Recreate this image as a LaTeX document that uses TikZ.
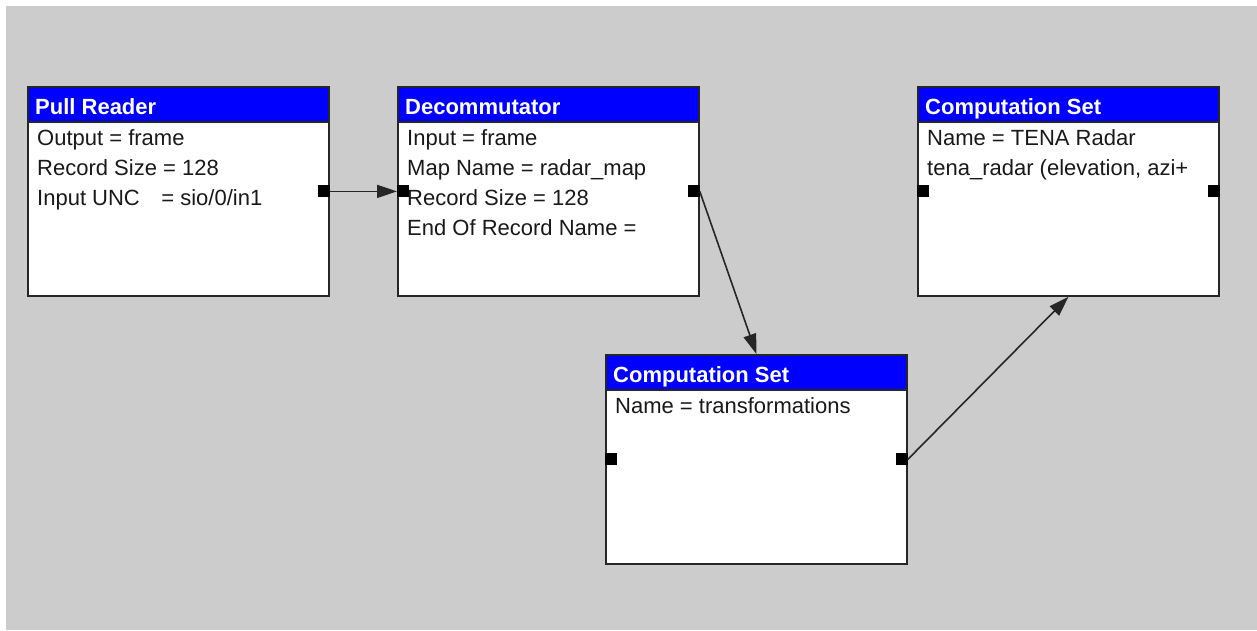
\documentclass[tikz,border=0pt]{standalone}
\usepackage{fontspec}
\setmainfont{Liberation Sans}
\usetikzlibrary{arrows.meta}

\definecolor{canvasgray}{RGB}{204,204,204}
\definecolor{headblue}{RGB}{0,0,255}

\tikzset{
    block/.style={draw=black!85, line width=1.8pt, fill=white, inner sep=0pt,
        minimum width=301pt, minimum height=209pt, anchor=north west},
    blockhead/.style={draw=black!85, line width=1.8pt, fill=headblue, inner sep=0pt,
        minimum width=301pt, minimum height=35pt, anchor=north west},
    headtext/.style={text=white, inner sep=0pt, anchor=base west,
        font=\bfseries\fontsize{22}{26}\selectfont},
    linetext/.style={text=black!90, inner sep=0pt, anchor=base west,
        font=\fontsize{22}{26}\selectfont},
    port/.style={fill=black, inner sep=0pt, minimum size=12pt},
    link/.style={draw=black!85, line width=1.6pt, -{Triangle[length=20pt,width=13pt]}},
}

% one filter block: name, x, y, title, lines
\newcommand{\streamblock}[5]{
    \node[block] (#1) at (#2,#3) {};
    \node[blockhead] (#1-head) at (#2,#3) {};
    \node[headtext] (#1-title) at (#2+8,#3+28) {#4};
    \foreach \t [count=\i] in {#5}
        \node[linetext] (#1-l\i) at (#2+10,#3+29+30*\i) {\t};
}

\begin{document}
\begin{tikzpicture}[x=1pt, y=-1pt]
    \useasboundingbox (0,0) rectangle (1257,630);
    \fill[canvasgray] (6,6) rectangle (1257,630);

    \streamblock{reader}{27}{86}{Pull Reader}
        {Output = frame, Record Size = 128, Input UNC\hspace{0.7em} = sio/0/in1}
    \streamblock{decom}{397}{86}{Decommutator}
        {Input = frame, Map Name = radar\_map, Record Size = 128, End Of Record Name =}
    \streamblock{trans}{605}{354}{Computation Set}
        {Name = transformations}
    \streamblock{tena}{917}{86}{Computation Set}
        {Name = TENA Radar, {tena\_radar (elevation, azi+}}

    % ports
    \node[port, anchor=east] (reader-out) at (reader.east) {};
    \node[port, anchor=west] (decom-in) at (decom.west) {};
    \node[port, anchor=east] (decom-out) at (decom.east) {};
    \node[port, anchor=west] (trans-in) at (trans.west) {};
    \node[port, anchor=east] (trans-out) at (trans.east) {};
    \node[port, anchor=west] (tena-in) at (tena.west) {};
    \node[port, anchor=east] (tena-out) at (tena.east) {};

    % connections
    \draw[link] (reader-out.east) -- (decom-in.west);
    \draw[link] (decom-out.east) -- (trans.north);
    \draw[link] (trans-out.east) -- (tena.south);
\end{tikzpicture}
\end{document}
